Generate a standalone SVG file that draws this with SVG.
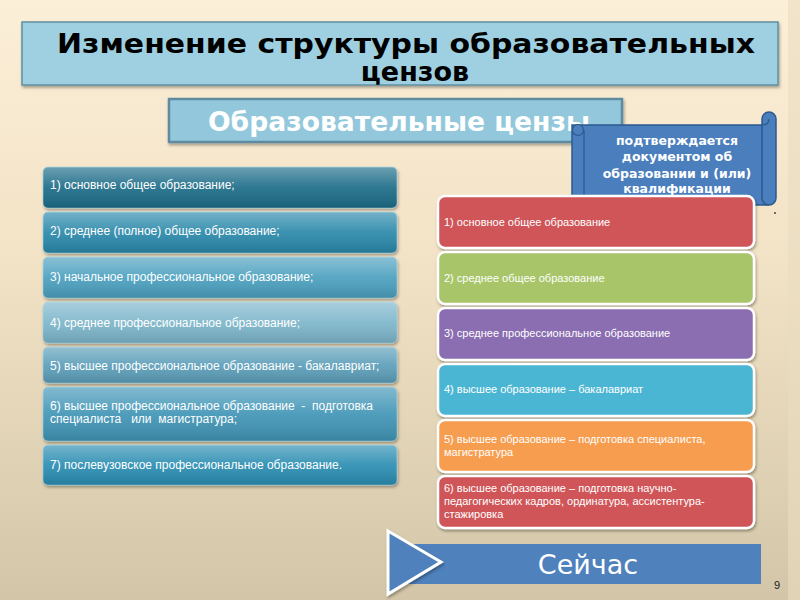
<svg xmlns="http://www.w3.org/2000/svg" width="800" height="600" viewBox="0 0 800 600">
<defs>
<linearGradient id="bg" x1="0" y1="0" x2="0" y2="1">
<stop offset="0" stop-color="#fcefd8"/>
<stop offset="0.45" stop-color="#f2e2c5"/>
<stop offset="1" stop-color="#d3c6a8"/>
</linearGradient>
<linearGradient id="gloss" x1="0" y1="0" x2="0" y2="1">
<stop offset="0" stop-color="#ffffff" stop-opacity="0.35"/>
<stop offset="0.5" stop-color="#ffffff" stop-opacity="0.08"/>
<stop offset="1" stop-color="#000000" stop-opacity="0.12"/>
</linearGradient>
<filter id="sh" x="-5%" y="-10%" width="112%" height="130%">
<feDropShadow dx="1" dy="2" stdDeviation="1.5" flood-color="#000" flood-opacity="0.35"/>
</filter>
</defs>
<style>
.lt{font-family:"Liberation Sans",Arial,sans-serif;font-size:12px;fill:#ffffff;white-space:pre}
.rt{font-family:"Liberation Sans",Arial,sans-serif;font-size:11px;fill:#ffffff}
.lb{stroke:#9fd6e8;stroke-width:1;stroke-opacity:0.6}
.rb{stroke:#ffffff;stroke-width:2.5}
.sc{font-family:"DejaVu Sans",Verdana,sans-serif;font-size:12.5px;font-weight:bold;fill:#ffffff;text-anchor:middle}
</style>
<rect width="800" height="600" fill="url(#bg)"/>
<rect x="788" y="0" width="12" height="600" fill="#e9dcc0" opacity="0.6"/>

<g id="title">
<rect x="22" y="22" width="756" height="63" fill="#9ed0e1" stroke="#5f8fa3" stroke-width="1.5" filter="url(#sh)"/>
<text x="406" y="53" font-family="DejaVu Sans,Verdana,sans-serif" font-size="27" font-weight="bold" fill="#000" text-anchor="middle" textLength="698" lengthAdjust="spacingAndGlyphs">Изменение структуры образовательных</text>
<text x="415" y="81" font-family="DejaVu Sans,Verdana,sans-serif" font-size="27" font-weight="bold" fill="#000" text-anchor="middle">цензов</text>
</g>

<g id="subtitle">
<rect x="169" y="99" width="453" height="43" fill="#93c8dc" stroke="#5f8aa0" stroke-width="2.5" filter="url(#sh)"/>
<text x="208" y="131" font-family="DejaVu Sans,Verdana,sans-serif" font-size="26" font-weight="bold" fill="#ffffff" textLength="382" lengthAdjust="spacingAndGlyphs">Образовательные цензы</text>
</g>

<g id="scroll">
<rect x="572" y="125" width="196" height="80" fill="#4a7ebd" stroke="#2c5a8e" stroke-width="1.5"/>
<rect x="762" y="112" width="14" height="93" rx="7" fill="#4a7ebd" stroke="#2c5a8e" stroke-width="1.5"/>
<path d="M762 125 Q769 125 769 119" fill="none" stroke="#2c5a8e" stroke-width="1.2"/>
<circle cx="578" cy="130" r="5.5" fill="#4a7ebd" stroke="#2c5a8e" stroke-width="1.2"/>
<line x1="584" y1="130" x2="584" y2="205" stroke="#2c5a8e" stroke-width="1.2"/>
<text class="sc" x="677" y="145">подтверждается</text>
<text class="sc" x="677" y="161">документом об</text>
<text class="sc" x="677" y="178">образовании и (или)</text>
<text class="sc" x="677" y="193">квалификации</text>
<circle cx="775" cy="213" r="0.9" fill="#333"/>
</g>

<g id="left-list">
<g id="l1"><rect x="43" y="167" width="354" height="41" rx="5" fill="#1f6c88" class="lb" filter="url(#sh)"/><rect x="43" y="167" width="354" height="41" rx="5" fill="url(#gloss)"/><text class="lt" x="50" y="189">1) основное общее образование;</text></g>
<g id="l2"><rect x="43" y="212" width="354" height="41" rx="5" fill="#2c88aa" class="lb" filter="url(#sh)"/><rect x="43" y="212" width="354" height="41" rx="5" fill="url(#gloss)"/><text class="lt" x="50" y="235">2) среднее (полное) общее образование;</text></g>
<g id="l3"><rect x="43" y="257" width="354" height="41" rx="5" fill="#4ca0bf" class="lb" filter="url(#sh)"/><rect x="43" y="257" width="354" height="41" rx="5" fill="url(#gloss)"/><text class="lt" x="50" y="281">3) начальное профессиональное образование;</text></g>
<g id="l4"><rect x="43" y="302" width="354" height="41" rx="5" fill="#7cb5ca" class="lb" filter="url(#sh)"/><rect x="43" y="302" width="354" height="41" rx="5" fill="url(#gloss)"/><text class="lt" x="50" y="327">4) среднее профессиональное образование;</text></g>
<g id="l5"><rect x="43" y="347" width="354" height="36" rx="5" fill="#5c9eb9" class="lb" filter="url(#sh)"/><rect x="43" y="347" width="354" height="36" rx="5" fill="url(#gloss)"/><text class="lt" x="50" y="370">5) высшее профессиональное образование - бакалавриат;</text></g>
<g id="l6"><rect x="43" y="387" width="354" height="54" rx="5" fill="#3f95b6" class="lb" filter="url(#sh)"/><rect x="43" y="387" width="354" height="54" rx="5" fill="url(#gloss)"/><text class="lt" x="50" y="410">6) высшее профессиональное образование  -  подготовка</text><text class="lt" x="50" y="423">специалиста   или  магистратура;</text></g>
<g id="l7"><rect x="43" y="445" width="354" height="40" rx="5" fill="#2b8db2" class="lb" filter="url(#sh)"/><rect x="43" y="445" width="354" height="40" rx="5" fill="url(#gloss)"/><text class="lt" x="50" y="469">7) послевузовское профессиональное образование.</text></g>
</g>

<g id="right-list">
<g id="r1"><rect x="438" y="196" width="316" height="52" rx="7" fill="#cf5558" class="rb" filter="url(#sh)"/><text class="rt" x="444" y="226">1) основное общее образование</text></g>
<g id="r2"><rect x="438" y="252" width="316" height="52" rx="7" fill="#a8c56b" class="rb" filter="url(#sh)"/><text class="rt" x="444" y="282">2) среднее общее образование</text></g>
<g id="r3"><rect x="438" y="308" width="316" height="52" rx="7" fill="#8b6db1" class="rb" filter="url(#sh)"/><text class="rt" x="444" y="337">3) среднее профессиональное образование</text></g>
<g id="r4"><rect x="438" y="364" width="316" height="52" rx="7" fill="#4bb6d3" class="rb" filter="url(#sh)"/><text class="rt" x="444" y="393">4) высшее образование – бакалавриат</text></g>
<g id="r5"><rect x="438" y="420" width="316" height="52" rx="7" fill="#f79d4f" class="rb" filter="url(#sh)"/><text class="rt" x="444" y="443">5) высшее образование – подготовка специалиста,</text><text class="rt" x="444" y="456">магистратура</text></g>
<g id="r6"><rect x="438" y="476" width="316" height="52" rx="7" fill="#cf5558" class="rb" filter="url(#sh)"/><text class="rt" x="444" y="492">6) высшее образование – подготовка научно-</text><text class="rt" x="444" y="505">педагогических кадров, ординатура, ассистентура-</text><text class="rt" x="444" y="518">стажировка</text></g>
</g>

<g id="now">
<rect x="408" y="544" width="353" height="40" fill="#4f81bd"/>
<polygon points="388,531 441,562 388,594" fill="#4f81bd" stroke="#ffffff" stroke-width="3" filter="url(#sh)"/>
<text x="588" y="574" font-family="DejaVu Sans,Verdana,sans-serif" font-size="27" fill="#ffffff" text-anchor="middle">Сейчас</text>
</g>
<text x="777" y="589" font-family="Liberation Sans,Arial,sans-serif" font-size="11" fill="#222" text-anchor="middle">9</text>
</svg>
